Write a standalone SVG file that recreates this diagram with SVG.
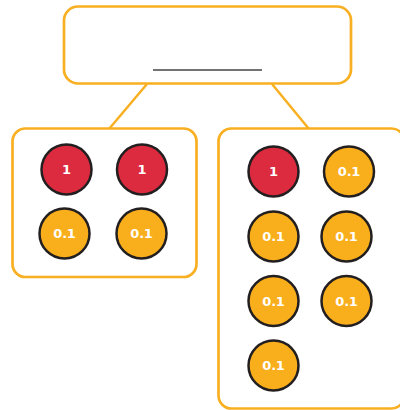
<svg xmlns="http://www.w3.org/2000/svg" width="400" height="410" viewBox="0 0 400 410">
<style>
.box{fill:#fff;stroke:#F8B022;stroke-width:2.7}
.con{stroke:#F8B022;stroke-width:2.5;fill:none}
.r{fill:#DC2A3E;stroke:#231F20;stroke-width:2.5}
.o{fill:#F9AE1B;stroke:#231F20;stroke-width:2.5}
.t{fill:#fff;font-family:"DejaVu Sans",sans-serif;font-weight:bold;font-size:13px;letter-spacing:-0.2px;text-anchor:middle;dominant-baseline:central}
</style>
<g id="connectors">
<line class="con" x1="147" y1="84" x2="109" y2="129"/>
<line class="con" x1="272" y1="84" x2="309" y2="129"/>
</g>
<g id="top">
<rect class="box" x="64" y="6.5" width="287" height="77" rx="14"/>
<line x1="153" y1="70" x2="262" y2="70" stroke="#444" stroke-width="1.3"/>
</g>
<g id="left">
<rect class="box" x="12.5" y="128.5" width="184" height="148.5" rx="13"/>
<g id="l1"><circle class="r" cx="66.5" cy="169.5" r="25"/><text class="t" x="66.5" y="169.5">1</text></g>
<g id="l2"><circle class="r" cx="142" cy="169.5" r="25"/><text class="t" x="142" y="169.5">1</text></g>
<g id="l3"><circle class="o" cx="64.5" cy="233.5" r="25"/><text class="t" x="64.5" y="233.5">0.1</text></g>
<g id="l4"><circle class="o" cx="141.5" cy="233.5" r="25"/><text class="t" x="141.5" y="233.5">0.1</text></g>
</g>
<g id="right">
<rect class="box" x="218.5" y="128.5" width="186" height="280" rx="13"/>
<g id="r1"><circle class="r" cx="273.5" cy="171.5" r="25"/><text class="t" x="273.5" y="171.5">1</text></g>
<g id="r2"><circle class="o" cx="349" cy="171.5" r="25"/><text class="t" x="349" y="171.5">0.1</text></g>
<g id="r3"><circle class="o" cx="273.5" cy="236.5" r="25"/><text class="t" x="273.5" y="236.5">0.1</text></g>
<g id="r4"><circle class="o" cx="346.5" cy="236.5" r="25"/><text class="t" x="346.5" y="236.5">0.1</text></g>
<g id="r5"><circle class="o" cx="273.5" cy="301" r="25"/><text class="t" x="273.5" y="301">0.1</text></g>
<g id="r6"><circle class="o" cx="346.5" cy="301" r="25"/><text class="t" x="346.5" y="301">0.1</text></g>
<g id="r7"><circle class="o" cx="273.5" cy="365.5" r="25"/><text class="t" x="273.5" y="365.5">0.1</text></g>
</g>
</svg>
